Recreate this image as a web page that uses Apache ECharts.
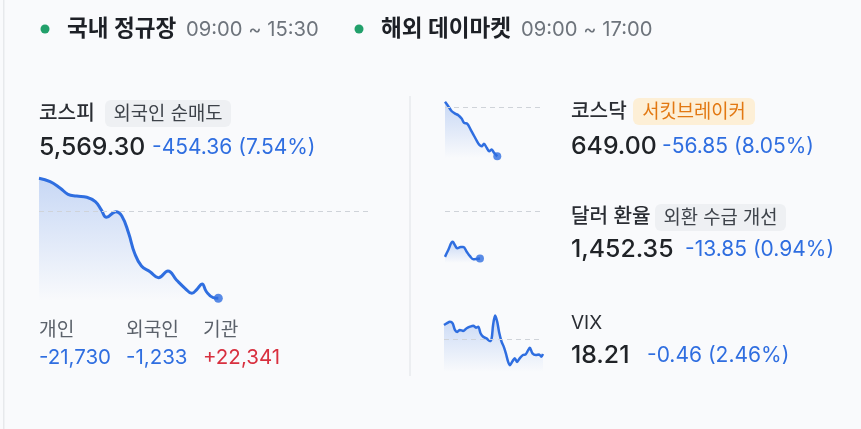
<!DOCTYPE html>
<html>
<head>
<meta charset="utf-8">
<script src="https://cdn.jsdelivr.net/npm/echarts@6/dist/echarts.min.js"></script>
<style>
html, body { margin: 0; padding: 0; background: #f9fafc; }
#chart1 { width: 861px; height: 429px; }
</style>
</head>
<body>
<div id="chart1"></div>
<script>
// 코스피: 장 시작 후 분, 지수
var kospiT = [0, 13, 25, 34, 44, 56, 66, 73, 79, 90, 97, 105, 112, 120, 130, 140, 151, 161, 171, 179, 185, 191, 196, 204, 210];
var kospiV = [6198.9, 6181.1, 6146.4, 6114.9, 6106.0, 6099.2, 6076.1, 6032.6, 5994.3, 6023.7, 6001.1, 5910.3, 5805.4, 5738.8, 5708.9, 5677.4, 5712.5, 5665.3, 5621.8, 5595.5, 5616.5, 5644.3, 5603.9, 5572.5, 5569.3];
var kospiPrev = 6023.66;

// 코스닥
var kosdaqT = [0, 13, 27, 40, 53, 66, 76, 89, 102, 113, 126, 136, 146, 155, 166, 176, 186, 195, 208];
var kosdaqV = [712.1, 707.0, 701.2, 698.5, 696.6, 692.7, 687.8, 686.6, 680.0, 674.2, 667.2, 662.6, 660.6, 663.4, 658.8, 654.8, 656.8, 653.0, 649.0];
var kosdaqPrev = 705.85;

// 달러 환율
var usdT = [0, 34, 80, 104, 128, 163, 190, 226, 260, 295, 330, 364];
var usdV = [1452.8, 1454.8, 1457.2, 1456.2, 1455.3, 1455.7, 1455.7, 1454.3, 1453.0, 1452.1, 1452.2, 1452.35];
var usdPrev = 1466.2;

// VIX
var vixT = [0, 13, 29, 42, 53, 64, 77, 93, 110, 126, 142, 155, 166, 177, 190, 206, 222, 231, 238, 248, 258, 267, 279, 290, 300, 311, 319, 332, 343, 354, 367, 383, 396, 408, 416, 429, 445, 461, 472, 480];
var vixV = [19.10, 19.15, 19.20, 19.15, 18.95, 18.89, 18.95, 18.92, 19.00, 19.05, 19.08, 19.02, 19.05, 18.85, 18.74, 18.69, 18.61, 18.69, 19.10, 19.39, 19.20, 18.89, 18.59, 18.43, 18.23, 17.97, 17.87, 17.99, 18.08, 17.97, 18.08, 18.18, 18.20, 18.33, 18.40, 18.23, 18.18, 18.20, 18.13, 18.21];
var vixPrev = 18.67;

var investorNames = ['개인', '외국인', '기관'];
var investorValues = ['-21,730', '-1,233', '+22,341'];

var FONT = "Inter, 'Noto Sans CJK KR', sans-serif";
var BLUE = '#2f6ee0';
var RED = '#d8303f';

function txt(x, y, s, size, color, weight, align) {
    return {
        type: 'text', x: x, y: y, silent: true,
        style: {
            text: s, fill: color,
            font: (weight || 400) + ' ' + size + 'px ' + FONT,
            align: align || 'left', verticalAlign: 'middle'
        }
    };
}

function badge(x, y, w, h, s, bg, color) {
    return [
        { type: 'rect', shape: { x: x, y: y, width: w, height: h, r: 6 }, style: { fill: bg }, silent: true },
        txt(x + w / 2, y + h / 2 + 0.5, s, 18.8, color, 400, 'center')
    ];
}

function lineSeries(idx, t, v, prev, width, smooth) {
    return {
        type: 'line', xAxisIndex: idx, yAxisIndex: idx,
        data: t.map(function (x, i) { return [x, v[i]]; }),
        symbol: 'none', smooth: smooth, clip: false,
        lineStyle: { color: BLUE, width: width },
        areaStyle: {
            color: new echarts.graphic.LinearGradient(0, 0, 0, 1, [
                { offset: 0, color: 'rgba(47,110,224,0.35)' },
                { offset: 1, color: 'rgba(47,110,224,0)' }
            ])
        },
        markLine: {
            silent: true, symbol: 'none', label: { show: false },
            lineStyle: { color: '#cfd3d9', type: [5, 4], width: 1 },
            data: [{ yAxis: prev }]
        },
        z: 3
    };
}

function lastDot(idx, t, v, size) {
    return {
        type: 'scatter', xAxisIndex: idx, yAxisIndex: idx,
        data: [[t[t.length - 1], v[v.length - 1]]],
        symbolSize: size, itemStyle: { color: BLUE }, z: 4
    };
}

var grids = [
    { left: 39, top: 176, width: 333, height: 125 },
    { left: 445, top: 101, width: 98, height: 57 },
    { left: 445, top: 205, width: 98, height: 58 },
    { left: 444, top: 312, width: 99, height: 60 }
];
var xMax = [390, 390, 1020, 480];
var yRange = [[5555, 6210.8], [647, 713.1], [1451, 1468], [17.66, 19.5]];

var gfx = [
    { type: 'rect', shape: { x: 3, y: 0, width: 1.5, height: 429 }, style: { fill: '#e7e9ec' }, silent: true },
    { type: 'rect', shape: { x: 409, y: 96, width: 2, height: 280 }, style: { fill: '#eceef1' }, silent: true },
    { type: 'circle', shape: { cx: 45, cy: 29, r: 4.5 }, style: { fill: '#22a06b' }, silent: true },
    txt(67, 29, '국내 정규장', 22.6, '#1d2026', 700),
    txt(186, 29.5, '09:00 ~ 15:30', 20.2, '#6e747c'),
    { type: 'circle', shape: { cx: 359, cy: 29, r: 4.5 }, style: { fill: '#22a06b' }, silent: true },
    txt(381, 29, '해외 데이마켓', 22.6, '#1d2026', 700),
    txt(521, 29.5, '09:00 ~ 17:00', 20.2, '#6e747c'),

    txt(39, 114, '코스피', 20.2, '#2a2d33', 500),
    txt(39, 148, '5,569.30', 24.8, '#202327', 500),
    txt(152, 148, '-454.36 (7.54%)', 21, BLUE, 400),

    txt(571, 112, '코스닥', 20.2, '#2a2d33', 500),
    txt(571, 146.5, '649.00', 24.8, '#202327', 500),
    txt(662, 146.5, '-56.85 (8.05%)', 21, BLUE, 400),

    txt(571, 217, '달러 환율', 20.2, '#2a2d33', 500),
    txt(571, 250, '1,452.35', 24.8, '#202327', 500),
    txt(685, 250, '-13.85 (0.94%)', 21, BLUE, 400),

    txt(571, 323, 'VIX', 19, '#2a2d33', 400),
    txt(571, 356, '18.21', 24.8, '#202327', 500),
    txt(647, 356, '-0.46 (2.46%)', 21, BLUE, 400)
];
gfx = gfx.concat(badge(105, 100, 126, 27, '외국인 순매도', '#eef0f3', '#3d4249'));
gfx = gfx.concat(badge(633, 98, 122, 27, '서킷브레이커', '#fdefd6', '#e27812'));
gfx = gfx.concat(badge(655, 204, 131, 27, '외환 수급 개선', '#eef0f3', '#3d4249'));

var investorX = [39, 126, 203];
investorNames.forEach(function (n, i) {
    gfx.push(txt(investorX[i], 330, n, 19.2, '#5b616a', 400));
    var v = investorValues[i];
    gfx.push(txt(investorX[i], 357.5, v, 20.5, v.charAt(0) === '+' ? RED : BLUE, 400));
});

var myChart = echarts.init(document.getElementById('chart1'));
myChart.setOption({
    backgroundColor: '#f9fafc',
    animation: false,
    grid: grids,
    xAxis: grids.map(function (g, i) { return { type: 'value', gridIndex: i, min: 0, max: xMax[i], show: false }; }),
    yAxis: grids.map(function (g, i) { return { type: 'value', gridIndex: i, min: yRange[i][0], max: yRange[i][1], show: false }; }),
    series: [
        lineSeries(0, kospiT, kospiV, kospiPrev, 3, 0.45),
        lastDot(0, kospiT, kospiV, 9),
        lineSeries(1, kosdaqT, kosdaqV, kosdaqPrev, 2.5, 0.3),
        lastDot(1, kosdaqT, kosdaqV, 8),
        lineSeries(2, usdT, usdV, usdPrev, 2.5, 0.4),
        lastDot(2, usdT, usdV, 8),
        lineSeries(3, vixT, vixV, vixPrev, 2.5, 0.3)
    ],
    graphic: gfx
});
</script>
</body>
</html>
